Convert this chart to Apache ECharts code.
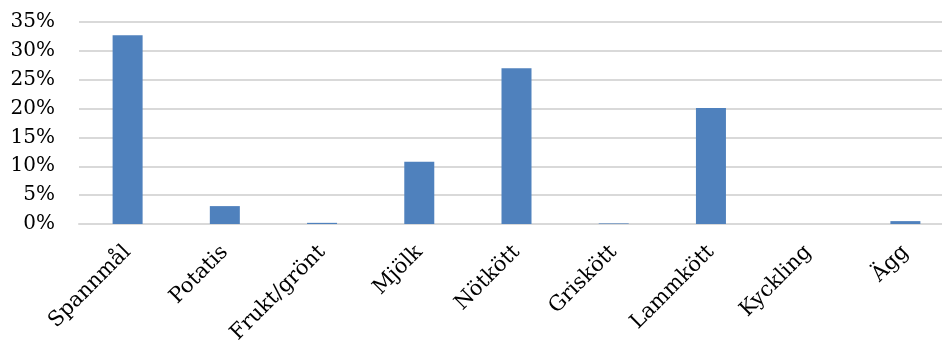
<!DOCTYPE html>
<html><head><meta charset="utf-8">
<script src="https://cdn.jsdelivr.net/npm/echarts@6/dist/echarts.min.js"></script>
<style>html,body{margin:0;padding:0;background:#fff;overflow:hidden;width:942px;height:347px}#c{width:956px;height:347px}</style>
</head><body><div id="c"></div>
<script>
const categories = ["Spannmål","Potatis","Frukt/grönt","Mjölk","Nötkött","Griskött","Lammkött","Kyckling","Ägg"];
const values = [32.7, 3.1, 0.2, 10.8, 27.0, 0.1, 20.1, 0.0, 0.5];
const yTicks = [0, 5, 10, 15, 20, 25, 30, 35];

const chart = echarts.init(document.getElementById('c'), null, {renderer:'canvas'});
chart.setOption({
  animation: false,
  grid: {left: 79, right: 2, top: 22, bottom: 123, containLabel: false},
  xAxis: {
    type: 'category', data: categories,
    axisLine: {show: true, lineStyle: {color: '#d9d9d9', width: 2}},
    axisTick: {show: false},
    axisLabel: {rotate: 45, interval: 0, margin: 25, color: '#000', fontFamily: 'DejaVu Serif', fontSize: 21}
  },
  yAxis: {
    type: 'value', min: yTicks[0], max: yTicks[yTicks.length-1], interval: 5,
    axisLine: {show: false}, axisTick: {show: false},
    splitLine: {lineStyle: {color: '#d9d9d9', width: 2}},
    axisLabel: {formatter: v => v + '%', margin: 24, color: '#000', fontFamily: 'DejaVu Serif', fontSize: 20}
  },
  series: [{
    type: 'bar', data: values, barWidth: 30,
    itemStyle: {color: '#4f81bd'}
  }]
});
</script></body></html>
